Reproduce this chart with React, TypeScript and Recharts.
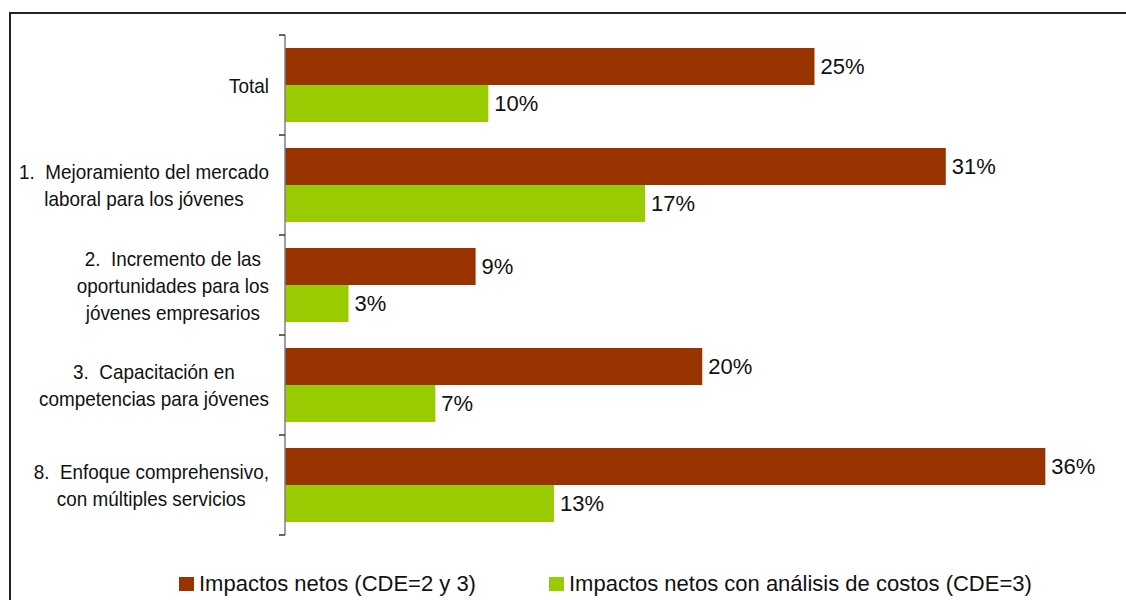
import React from 'react';
import { BarChart, Bar, XAxis, YAxis, Legend, LabelList } from 'recharts';

const categories = [
  'Total',
  '1.  Mejoramiento del mercado\nlaboral para los jóvenes',
  '2.  Incremento de las\noportunidades para los\njóvenes empresarios',
  '3.  Capacitación en\ncompetencias para jóvenes',
  '8.  Enfoque comprehensivo,\ncon múltiples servicios',
];
const impactosNetos = [25.0, 31.2, 9.0, 19.7, 35.9];
const impactosCostos = [9.6, 17.0, 3.0, 7.1, 12.7];
const seriesNames = ['Impactos netos (CDE=2 y 3)', 'Impactos netos con análisis de costos (CDE=3)'];
const seriesColors = ['#993300', '#99CC00'];

const data = categories.map((name, i) => ({
  name,
  netos: impactosNetos[i],
  costos: impactosCostos[i],
}));

const WIDTH = 1126;
const HEIGHT = 600;
const MARGIN = { top: 35, right: 15, bottom: 65, left: 0 };
const AXIS_X = 285;
const BAND = (HEIGHT - MARGIN.top - MARGIN.bottom) / categories.length;
const FONT = '"Liberation Sans", Arial, sans-serif';
const LABEL_SIZE = 21;
const LABEL_SCALE = 0.9;
const LINE_H = 27;
const LABEL_RIGHT = 269;

let ctx: CanvasRenderingContext2D | null = null;
const textWidth = (s: string) => {
  if (!ctx) ctx = document.createElement('canvas').getContext('2d');
  if (!ctx) return s.length * 10;
  ctx.font = `${LABEL_SIZE}px "Liberation Sans"`;
  return ctx.measureText(s).width * LABEL_SCALE;
};

const CategoryTick = (props: any) => {
  const { y, payload, index } = props;
  const lines: string[] = String(payload.value).split('\n');
  const maxW = Math.max(...lines.map(textWidth));
  const cx = LABEL_RIGHT - maxW / 2;
  const first = y - ((lines.length - 1) * LINE_H) / 2 + LABEL_SIZE * 0.36;
  return (
    <g>
      <line x1={AXIS_X - 6} x2={AXIS_X} y1={y - BAND / 2} y2={y - BAND / 2} stroke="#333" strokeWidth={1.5} />
      {index === categories.length - 1 && (
        <line x1={AXIS_X - 6} x2={AXIS_X} y1={y + BAND / 2} y2={y + BAND / 2} stroke="#333" strokeWidth={1.5} />
      )}
      {lines.map((l, i) => (
        <text
          key={i}
          transform={`translate(${cx},${first + i * LINE_H}) scale(${LABEL_SCALE},1)`}
          textAnchor="middle"
          fontSize={LABEL_SIZE}
          fontFamily={FONT}
          fill="#111"
          style={{ whiteSpace: 'pre' }}
        >
          {l}
        </text>
      ))}
    </g>
  );
};

const renderLegend = () => (
  <div style={{ display: 'flex', fontFamily: FONT, fontSize: 22, lineHeight: '22px', color: '#111', whiteSpace: 'nowrap' }}>
    {seriesNames.map((n, i) => (
      <div key={n} style={{ display: 'flex', alignItems: 'flex-start', width: i === 0 ? 370 : 'auto' }}>
        <span style={{ width: 15, height: 14, marginTop: 4, marginRight: 5, background: seriesColors[i], display: 'inline-block' }} />
        <span>{n}</span>
      </div>
    ))}
  </div>
);

const pct = (v: any) => `${Math.round(Number(v))}%`;

export default function App() {
  return (
    <div style={{ position: 'fixed', left: 0, top: 0, width: WIDTH, height: HEIGHT, overflow: 'hidden', background: '#fff' }}>
      <div
        style={{
          position: 'absolute',
          left: 9,
          top: 12,
          width: WIDTH,
          height: HEIGHT,
          borderTop: '2px solid #222',
          borderLeft: '2px solid #222',
        }}
      />
      <div style={{ position: 'absolute', left: 0, top: 0 }}>
        <BarChart
          width={WIDTH}
          height={HEIGHT}
          data={data}
          layout="vertical"
          margin={MARGIN}
          barCategoryGap={13}
          barGap={0}
        >
          <XAxis type="number" domain={[0, 39]} hide />
          <YAxis
            type="category"
            dataKey="name"
            width={AXIS_X}
            interval={0}
            tickLine={false}
            axisLine={{ stroke: '#808080', strokeWidth: 1.5 }}
            tick={<CategoryTick />}
          />
          <Legend
            layout="vertical"
            align="center"
            verticalAlign="middle"
            content={renderLegend}
            wrapperStyle={{ left: 179, top: 573, width: 'auto' }}
          />
          <Bar dataKey="netos" name={seriesNames[0]} fill={seriesColors[0]} isAnimationActive={false}>
            <LabelList dataKey="netos" position="right" offset={6} formatter={pct} fill="#111" fontSize={22} fontFamily={FONT} />
          </Bar>
          <Bar dataKey="costos" name={seriesNames[1]} fill={seriesColors[1]} isAnimationActive={false}>
            <LabelList dataKey="costos" position="right" offset={6} formatter={pct} fill="#111" fontSize={22} fontFamily={FONT} />
          </Bar>
        </BarChart>
      </div>
    </div>
  );
}
